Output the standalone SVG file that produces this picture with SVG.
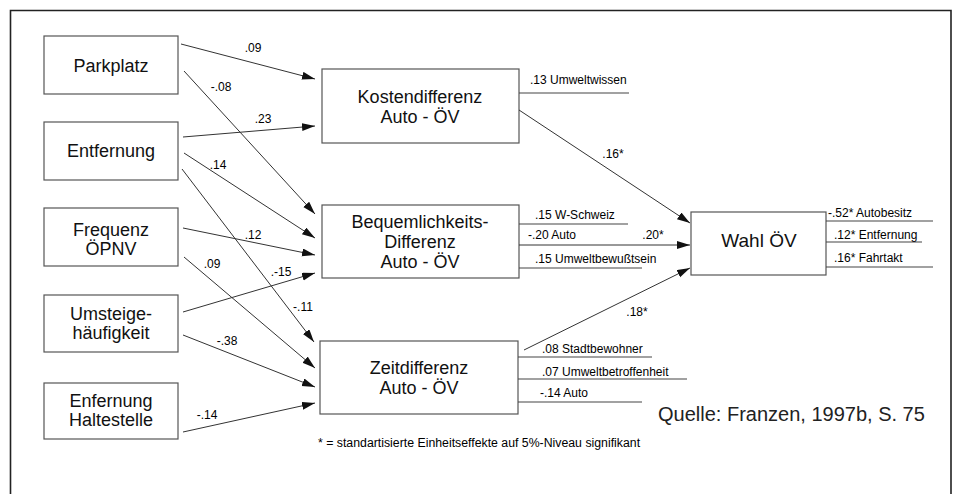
<svg xmlns="http://www.w3.org/2000/svg" width="960" height="494" viewBox="0 0 960 494">
<style>
.box{fill:#fff;stroke:#555;stroke-width:1.2}
.lb{font-family:"Liberation Sans",Arial,sans-serif;font-size:18px;fill:#111;text-anchor:middle}
.sm{font-family:"Liberation Sans",Arial,sans-serif;font-size:12px;fill:#000}
.el{font-family:"Liberation Sans",Arial,sans-serif;font-size:12px;fill:#000;text-anchor:middle}
.ln{stroke:#333;stroke-width:1;fill:none}
.tl{stroke:#444;stroke-width:1.2;fill:none}
</style>
<defs>
<marker id="ah" markerUnits="userSpaceOnUse" markerWidth="14" markerHeight="10" refX="13" refY="4" orient="auto">
<path d="M0,0 L13,4 L0,8 z" fill="#111"/>
</marker>
</defs>
<rect width="960" height="494" fill="#fff"/>
<path d="M10.5,500 V10.5 H951 V500" fill="none" stroke="#222" stroke-width="1.6"/>

<g id="n-parkplatz"><rect class="box" x="44" y="36" width="134" height="58"/><text class="lb" x="111" y="72">Parkplatz</text></g>
<g id="n-entfernung"><rect class="box" x="44" y="122" width="134" height="58"/><text class="lb" x="111" y="157">Entfernung</text></g>
<g id="n-frequenz"><rect class="box" x="44" y="208" width="134" height="58"/><text class="lb" x="111" y="236">Frequenz</text><text class="lb" x="111" y="255">ÖPNV</text></g>
<g id="n-umsteige"><rect class="box" x="44" y="295" width="134" height="57"/><text class="lb" x="111" y="320">Umsteige-</text><text class="lb" x="111" y="339">häufigkeit</text></g>
<g id="n-haltestelle"><rect class="box" x="44" y="383" width="134" height="56"/><text class="lb" x="111" y="407">Enfernung</text><text class="lb" x="111" y="426">Haltestelle</text></g>

<g id="n-kosten"><rect class="box" x="322" y="69" width="197" height="74"/><text class="lb" x="420" y="103">Kostendifferenz</text><text class="lb" x="420" y="123">Auto - ÖV</text></g>
<g id="n-bequem"><rect class="box" x="322" y="205" width="197" height="73"/><text class="lb" x="420" y="228">Bequemlichkeits-</text><text class="lb" x="420" y="248">Differenz</text><text class="lb" x="420" y="268">Auto - ÖV</text></g>
<g id="n-zeit"><rect class="box" x="320" y="341" width="198" height="73"/><text class="lb" x="419" y="374">Zeitdifferenz</text><text class="lb" x="419" y="394">Auto - ÖV</text></g>
<g id="n-wahl"><rect class="box" x="691" y="212" width="135" height="63"/><text class="lb" x="759" y="247" style="font-size:19px">Wahl ÖV</text></g>

<g id="connectors">
<line class="ln" x1="181" y1="44" x2="315" y2="79" marker-end="url(#ah)"/>
<line class="ln" x1="184" y1="71" x2="315" y2="214" marker-end="url(#ah)"/>
<line class="ln" x1="183" y1="137" x2="315" y2="126" marker-end="url(#ah)"/>
<line class="ln" x1="184" y1="153" x2="315" y2="238" marker-end="url(#ah)"/>
<line class="ln" x1="182" y1="169" x2="314" y2="342" marker-end="url(#ah)"/>
<line class="ln" x1="183" y1="228" x2="315" y2="255" marker-end="url(#ah)"/>
<line class="ln" x1="184" y1="257" x2="315" y2="368" marker-end="url(#ah)"/>
<line class="ln" x1="183" y1="312" x2="315" y2="273" marker-end="url(#ah)"/>
<line class="ln" x1="183" y1="335" x2="315" y2="387" marker-end="url(#ah)"/>
<line class="ln" x1="183" y1="432" x2="315" y2="403" marker-end="url(#ah)"/>
<line class="ln" x1="519" y1="110" x2="690" y2="223" marker-end="url(#ah)"/>
<line class="ln" x1="519" y1="245" x2="690" y2="245" marker-end="url(#ah)"/>
<line class="ln" x1="524" y1="350" x2="690" y2="268" marker-end="url(#ah)"/>

<line class="tl" x1="519" y1="93" x2="629" y2="93"/>
<line class="tl" x1="519" y1="224" x2="628" y2="224"/>
<line class="tl" x1="519" y1="268" x2="642" y2="268"/>
<line class="tl" x1="518" y1="357" x2="652" y2="357"/>
<line class="tl" x1="518" y1="379" x2="687" y2="379"/>
<line class="tl" x1="518" y1="402" x2="642" y2="402"/>
<line class="tl" x1="826" y1="221" x2="933" y2="221"/>
<line class="tl" x1="826" y1="242" x2="922" y2="242"/>
<line class="tl" x1="826" y1="267" x2="933" y2="267"/>
</g>

<g id="edge-labels">
<text class="el" x="253" y="52">.09</text>
<text class="el" x="221" y="91">-.08</text>
<text class="el" x="263" y="123">.23</text>
<text class="el" x="218" y="169">.14</text>
<text class="el" x="253" y="239">.12</text>
<text class="el" x="212" y="268">.09</text>
<text class="el" x="281" y="276">.-15</text>
<text class="el" x="303" y="311">-.11</text>
<text class="el" x="227" y="345">-.38</text>
<text class="el" x="207" y="419">-.14</text>
<text class="el" x="613" y="158">.16*</text>
<text class="el" x="653" y="239">.20*</text>
<text class="el" x="637" y="316">.18*</text>
</g>

<g id="side-labels">
<text class="sm" x="530" y="84">.13 Umweltwissen</text>
<text class="sm" x="535" y="219">.15 W-Schweiz</text>
<text class="sm" x="528" y="239">-.20 Auto</text>
<text class="sm" x="535" y="263">.15 Umweltbewußtsein</text>
<text class="sm" x="542" y="353">.08 Stadtbewohner</text>
<text class="sm" x="542" y="376">.07 Umweltbetroffenheit</text>
<text class="sm" x="540" y="397">-.14 Auto</text>
<text class="sm" x="828" y="217">-.52* Autobesitz</text>
<text class="sm" x="834" y="239">.12* Entfernung</text>
<text class="sm" x="834" y="262">.16* Fahrtakt</text>
</g>

<text x="318" y="447" style="font-family:'Liberation Sans',Arial,sans-serif;font-size:12.3px;fill:#000">* = standartisierte Einheitseffekte auf 5%-Niveau signifikant</text>
<text x="658" y="421" style="font-family:'Liberation Sans',Arial,sans-serif;font-size:20px;fill:#222">Quelle: Franzen, 1997b, S. 75</text>
</svg>
